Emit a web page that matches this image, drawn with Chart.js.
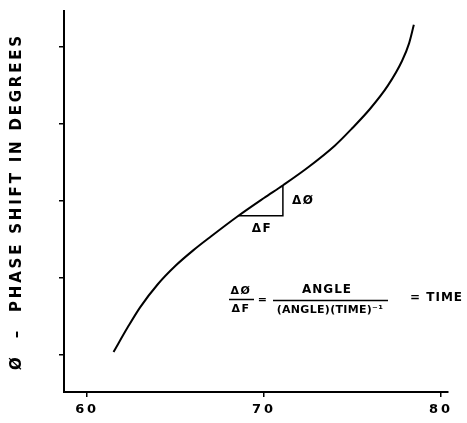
<!DOCTYPE html>
<html>
<head>
<meta charset="utf-8">
<script src="https://cdn.jsdelivr.net/npm/chart.js@4.4.1/dist/chart.umd.min.js"></script>
<style>
  html, body { margin: 0; padding: 0; background: #fff; }
  #wrap { width: 467px; height: 423px; }
</style>
</head>
<body>
<div id="wrap"><canvas id="phase"></canvas></div>
<script>
// Données
var frequencies = [61.5, 62.3, 63.0, 64.0, 65.0, 66.0, 67.0, 68.5, 70.0, 71.1, 72.5, 74.0, 75.0, 76.0, 77.0, 77.8, 78.2, 78.47];
var phaseShift  = [1.04, 1.36, 1.62, 1.92, 2.16, 2.36, 2.54, 2.80, 3.04, 3.21, 3.44, 3.72, 3.95, 4.20, 4.50, 4.82, 5.05, 5.29];
// petit triangle ΔF / ΔØ
var triangleF   = [68.53, 71.07, 71.07];
var trianglePhi = [2.81, 2.81, 3.21];
var xTicks = [60, 70, 80];
var yTicks = [1, 2, 3, 4, 5];

var FONT = 'DejaVu Sans';

function toPoints(xs, ys) {
    return xs.map(function (x, i) { return { x: x, y: ys[i] }; });
}

// Espacement des lettres pour les textes des axes
var spacingPlugin = {
    id: 'spacing',
    beforeDraw: function (chart) { chart.ctx.letterSpacing = '2.8px'; },
    beforeDatasetsDraw: function (chart) { chart.ctx.letterSpacing = '0px'; }
};

// Annotations : ΔF, ΔØ et la formule
var notesPlugin = {
    id: 'notes',
    afterDatasetsDraw: function (chart) {
        var ctx = chart.ctx;
        ctx.save();
        ctx.fillStyle = '#000';
        ctx.strokeStyle = '#000';
        ctx.textBaseline = 'middle';
        ctx.letterSpacing = '1.5px';
        ctx.font = 'bold 12px ' + FONT;
        ctx.textAlign = 'center';
        ctx.fillText('ΔF', 262, 229);
        ctx.textAlign = 'left';
        ctx.fillText('ΔØ', 292, 201);

        // formule
        ctx.font = 'bold 11px ' + FONT;
        ctx.textAlign = 'center';
        ctx.fillText('ΔØ', 241, 291);
        ctx.fillText('ΔF', 241, 309);
        ctx.fillText('=', 263, 300);
        ctx.letterSpacing = '1px';
        ctx.font = 'bold 12px ' + FONT;
        ctx.fillText('ANGLE', 327, 290);
        ctx.font = 'bold 11px ' + FONT;
        ctx.letterSpacing = '0.3px';
        ctx.fillText('(ANGLE)(TIME)⁻¹', 330, 310);
        ctx.letterSpacing = '1px';
        ctx.font = 'bold 12px ' + FONT;
        ctx.textAlign = 'left';
        ctx.fillText('= TIME', 410, 298);

        ctx.lineWidth = 1.5;
        ctx.beginPath();
        ctx.moveTo(229, 299.5); ctx.lineTo(254, 299.5);
        ctx.moveTo(273, 300.5); ctx.lineTo(388, 300.5);
        ctx.stroke();
        ctx.restore();
    }
};

function setupChart() {
    var ctx = document.getElementById('phase');
    new Chart(ctx, {
        type: 'scatter',
        data: {
            datasets: [{
                data: toPoints(frequencies, phaseShift),
                showLine: true,
                borderColor: '#000',
                borderWidth: 2,
                pointRadius: 0,
                cubicInterpolationMode: 'monotone'
            }, {
                data: toPoints(triangleF, trianglePhi),
                showLine: true,
                borderColor: '#000',
                borderWidth: 1.5,
                pointRadius: 0,
                tension: 0
            }]
        },
        options: {
            responsive: true,
            maintainAspectRatio: false,
            animation: false,
            events: [],
            layout: { padding: { top: 11, right: 19, left: 0, bottom: 0 } },
            plugins: { legend: { display: false }, tooltip: { enabled: false } },
            scales: {
                x: {
                    type: 'linear',
                    min: 58.7,
                    max: 80.4,
                    afterBuildTicks: function (axis) {
                        axis.ticks = xTicks.map(function (v) { return { value: v }; });
                    },
                    afterFit: function (axis) { axis.height = 31; },
                    border: { color: '#000', width: 2 },
                    grid: { drawOnChartArea: false, drawTicks: true, tickLength: 5, color: '#000', lineWidth: 1.5 },
                    ticks: {
                        color: '#000',
                        padding: 5,
                        maxRotation: 0,
                        font: { family: FONT, size: 13, weight: 'bold' }
                    }
                },
                y: {
                    type: 'linear',
                    min: 0.52,
                    max: 5.47,
                    afterBuildTicks: function (axis) {
                        axis.ticks = yTicks.map(function (v) { return { value: v }; });
                    },
                    afterFit: function (axis) { axis.width = 64; },
                    border: { color: '#000', width: 2 },
                    grid: { drawOnChartArea: false, drawTicks: true, tickLength: 5, color: '#000', lineWidth: 1.5 },
                    ticks: { display: false },
                    title: {
                        display: true,
                        text: 'Ø  –  PHASE SHIFT IN DEGREES',
                        color: '#000',
                        padding: { top: 8, bottom: 0 },
                        font: { family: FONT, size: 15, weight: 'bold' }
                    }
                }
            }
        },
        plugins: [spacingPlugin, notesPlugin]
    });
}

setupChart();
</script>
</body>
</html>
